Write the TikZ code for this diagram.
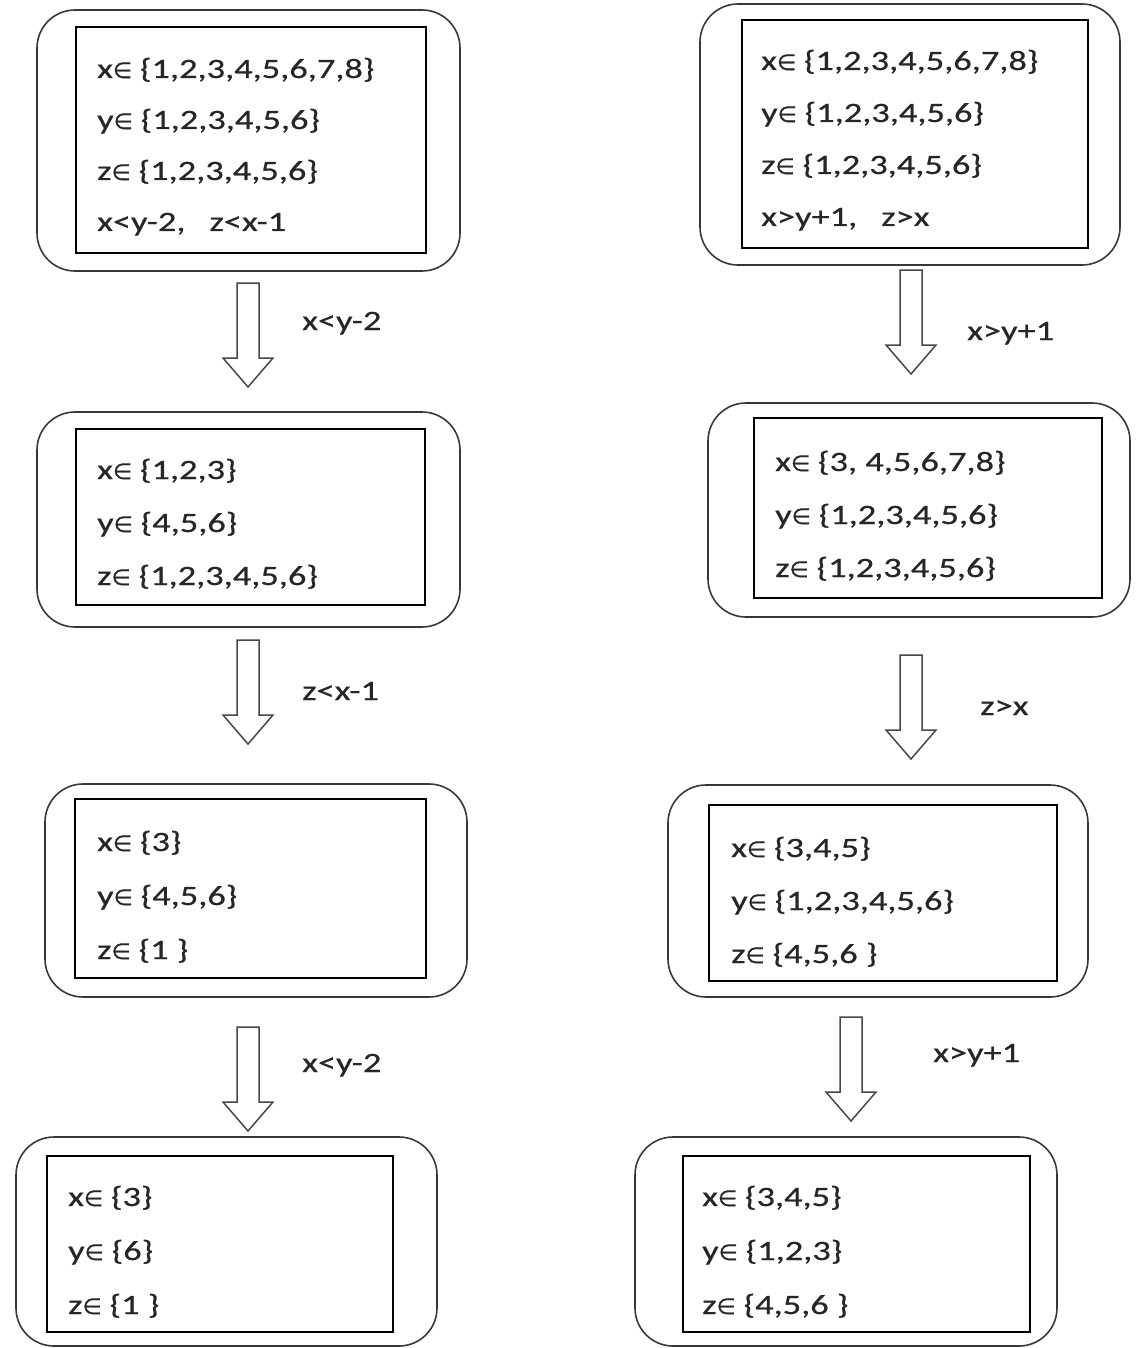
\documentclass[tikz,border=0pt]{standalone}
\usepackage{fontspec}
\setmainfont{Carlito}[FakeStretch=1.3, FakeBold=0.6]
\newfontfamily\symfont{DejaVu Sans}[FakeBold=0.4]
% element-of sign taken from DejaVu Sans
\newcommand\inn{{\symfont\fontsize{22}{26}\selectfont ∈}\hspace{8pt}}

\tikzset{
  outerbox/.style={draw=black!78, line width=1.6pt, rounded corners=38pt, inner sep=0pt},
  innerbox/.style={draw=black, line width=2pt, inner sep=0pt},
  txt/.style={anchor=base west, inner sep=0pt, text=black!85, font=\fontsize{28}{34}\selectfont},
  arrowline/.style={draw=black!72, line width=1.5pt, line join=miter},
  downarrow/.pic={
    \draw[arrowline] (-11,0) -- (11,0) -- (11,75) -- (25,75) -- (0,104)
      -- (-25,75) -- (-11,75) -- cycle;
  }
}

\begin{document}
\begin{tikzpicture}[x=1pt, y=-1pt]
\useasboundingbox (0,0) rectangle (1135,1348);

% ---------------- left column ----------------
\node[outerbox, minimum width=423pt, minimum height=261pt] (L1) at (248.5,140.5) {};
\node[innerbox, minimum width=350pt, minimum height=226pt] (L1i) at (251,140) {};
\foreach \t [count=\i] in {{x\inn\{1,2,3,4,5,6,7,8\}},{y\inn\{1,2,3,4,5,6\}},{z\inn\{1,2,3,4,5,6\}},{x<y-2,\hspace{24pt}z<x-1}}
  \node[txt] (L1t\i) at (97,78+51*\i-51) {\t};

\pic (LA1) at (248,283) {downarrow};
\node[txt] (LA1l) at (302,330) {x<y-2};

\node[outerbox, minimum width=423pt, minimum height=215pt] (L2) at (248.5,519.5) {};
\node[innerbox, minimum width=349pt, minimum height=176pt] (L2i) at (250.5,517) {};
\foreach \t [count=\i] in {{x\inn\{1,2,3\}},{y\inn\{4,5,6\}},{z\inn\{1,2,3,4,5,6\}}}
  \node[txt] (L2t\i) at (97,479+53*\i-53) {\t};

\pic (LA2) at (248,640) {downarrow};
\node[txt] (LA2l) at (302,700) {z<x-1};

\node[outerbox, minimum width=422pt, minimum height=213pt] (L3) at (256,890.5) {};
\node[innerbox, minimum width=351pt, minimum height=179pt] (L3i) at (250.5,888.5) {};
\foreach \t [count=\i] in {{x\inn\{3\}},{y\inn\{4,5,6\}},{z\inn\{1 \}}}
  \node[txt] (L3t\i) at (97,851+54*\i-54) {\t};

\pic (LA3) at (248,1027) {downarrow};
\node[txt] (LA3l) at (302,1072) {x<y-2};

\node[outerbox, minimum width=421pt, minimum height=209pt] (L4) at (226.5,1241.5) {};
\node[innerbox, minimum width=346pt, minimum height=176pt] (L4i) at (220,1244) {};
\foreach \t [count=\i] in {{x\inn\{3\}},{y\inn\{6\}},{z\inn\{1 \}}}
  \node[txt] (L4t\i) at (68,1206+54*\i-54) {\t};

% ---------------- right column ----------------
\node[outerbox, minimum width=420pt, minimum height=261pt] (R1) at (910,134.5) {};
\node[innerbox, minimum width=346pt, minimum height=228pt] (R1i) at (915,134) {};
\foreach \t [count=\i] in {{x\inn\{1,2,3,4,5,6,7,8\}},{y\inn\{1,2,3,4,5,6\}},{z\inn\{1,2,3,4,5,6\}},{x>y+1,\hspace{24pt}z>x}}
  \node[txt] (R1t\i) at (761,70+52*\i-52) {\t};

\pic (RA1) at (911,270) {downarrow};
\node[txt] (RA1l) at (967,340) {x>y+1};

\node[outerbox, minimum width=422pt, minimum height=214pt] (R2) at (919,510) {};
\node[innerbox, minimum width=348pt, minimum height=180pt] (R2i) at (928,508) {};
\foreach \t [count=\i] in {{x\inn\{3, 4,5,6,7,8\}},{y\inn\{1,2,3,4,5,6\}},{z\inn\{1,2,3,4,5,6\}}}
  \node[txt] (R2t\i) at (775,471+53*\i-53) {\t};

\pic (RA2) at (911,655) {downarrow};
\node[txt] (RA2l) at (980,715) {z>x};

\node[outerbox, minimum width=420pt, minimum height=212pt] (R3) at (878,891) {};
\node[innerbox, minimum width=348pt, minimum height=176pt] (R3i) at (883,893) {};
\foreach \t [count=\i] in {{x\inn\{3,4,5\}},{y\inn\{1,2,3,4,5,6\}},{z\inn\{4,5,6 \}}}
  \node[txt] (R3t\i) at (731,857+53*\i-53) {\t};

\pic (RA3) at (851,1017) {downarrow};
\node[txt] (RA3l) at (933,1062) {x>y+1};

\node[outerbox, minimum width=422pt, minimum height=209pt] (R4) at (846,1241.5) {};
\node[innerbox, minimum width=347pt, minimum height=176pt] (R4i) at (856.5,1244) {};
\foreach \t [count=\i] in {{x\inn\{3,4,5\}},{y\inn\{1,2,3\}},{z\inn\{4,5,6 \}}}
  \node[txt] (R4t\i) at (702,1206+54*\i-54) {\t};
\end{tikzpicture}
\end{document}
